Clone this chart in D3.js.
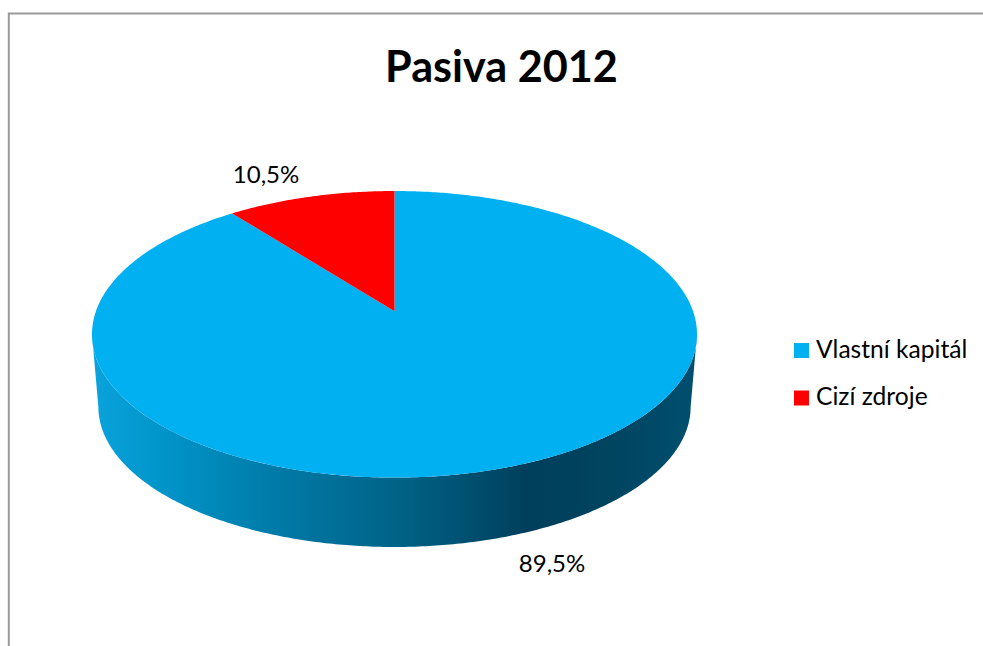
<!DOCTYPE html>
<html>
<head>
<meta charset="utf-8">
<script src="https://cdn.jsdelivr.net/npm/d3@7/dist/d3.min.js"></script>
<style>
  html, body { margin: 0; padding: 0; background: #fff; }
  svg { display: block; }
  text { font-family: Lato, "Open Sans", sans-serif; fill: #000; }
</style>
</head>
<body>
<svg id="chart" width="983" height="646"></svg>
<script>
// Capital structure for 2012
const categories = ["Vlastní kapitál", "Cizí zdroje"];
const shares = [89.5, 10.5];
const sliceColors = ["#00b0f0", "#ff0000"];
const chartTitle = "Pasiva 2012";

const W = 983, H = 646;
const svg = d3.select("#chart").attr("viewBox", `0 0 ${W} ${H}`);

// Chart frame: only the top and left edges fall inside the view
svg.append("path")
  .attr("d", `M8.8,${H}V13.5H${W}`)
  .attr("fill", "none")
  .attr("stroke", "#9a9a9a")
  .attr("stroke-width", 2);

svg.append("text")
  .attr("x", 501.5).attr("y", 82)
  .attr("text-anchor", "middle")
  .attr("font-size", 43.2)
  .attr("font-weight", 700)
  .text(chartTitle);

// Perspective projection of the pie's unit disc onto the page.
// The far rim sits at y=191, the near rim at y=477.6 and the hub at y=311.3.
const hub = { x: 394.5, y: 311.3 };
const rimTop = 191, rimBottom = 477.6;
const tilt = (rimTop + rimBottom - 2 * hub.y) / (rimBottom - rimTop);
const yGain = rimTop * (1 + tilt) - hub.y;
const halfWidth = 302.5 * Math.sqrt(1 - tilt * tilt);

function projectTop(angle) {
  const u = Math.sin(angle), v = Math.cos(angle);
  const w = 1 + tilt * v;
  return [hub.x + halfWidth * u / w, (yGain * v + hub.y) / w];
}

// The lower rim is the same circle seen a little smaller and further down.
const rimCentreY = 334.3, shrink = 0.979, drop = 72.4;
function projectBottom(angle) {
  const [x, y] = projectTop(angle);
  return [hub.x + (x - hub.x) * shrink, rimCentreY + (y - rimCentreY) * shrink + drop];
}

function rimPoints(project, a0, a1) {
  const steps = Math.max(2, Math.ceil(Math.abs(a1 - a0) / 0.01));
  return d3.range(steps + 1).map(i => project(a0 + (a1 - a0) * i / steps));
}

const line = d3.line();
const pie = d3.pie().sort(null).value(d => d);
const arcs = pie(shares);

// Shading along the visible wall of the disc
const gradient = svg.append("defs").append("linearGradient")
  .attr("id", "wall")
  .attr("gradientUnits", "userSpaceOnUse")
  .attr("x1", 92).attr("x2", 697).attr("y1", 0).attr("y2", 0);
[[0, "#0aa3dc"], [0.12, "#0094c9"], [0.3, "#007ba8"], [0.5, "#006488"],
 [0.72, "#003f5c"], [0.85, "#00445f"], [1, "#004f70"]]
  .forEach(([o, c]) => gradient.append("stop").attr("offset", o).attr("stop-color", c));

// Angle at which the projected rim reaches its side extremes
const sideAngle = Math.acos(-tilt);
const wall = rimPoints(projectTop, sideAngle, 2 * Math.PI - sideAngle)
  .concat(rimPoints(projectBottom, 2 * Math.PI - sideAngle, sideAngle));
svg.append("path")
  .attr("d", line(wall) + "Z")
  .attr("fill", "url(#wall)");

// Top face slices
svg.append("g").selectAll("path")
  .data(arcs)
  .join("path")
  .attr("d", d => line([[hub.x, hub.y], ...rimPoints(projectTop, d.startAngle, d.endAngle)]) + "Z")
  .attr("fill", (d, i) => sliceColors[i]);

// Percentage labels, offset from the rim at each slice's middle
const decimalComma = d3.formatLocale({ decimal: ",", thousands: " ", grouping: [3], currency: ["", ""] });
const fmt = decimalComma.format(".1f");
const labelOffsets = [[43.5, 105], [-44.5, -13.6]];
const midRim = d => projectTop((d.startAngle + d.endAngle) / 2);
svg.append("g").selectAll("text")
  .data(arcs)
  .join("text")
  .attr("text-anchor", "middle")
  .attr("font-size", 24)
  .attr("x", (d, i) => midRim(d)[0] + labelOffsets[i][0])
  .attr("y", (d, i) => midRim(d)[1] + labelOffsets[i][1])
  .text(d => fmt(d.value) + "%");

// Legend
const legendY = d3.scalePoint().domain(categories).range([357.5, 405]);
const legend = svg.append("g").selectAll("g")
  .data(categories)
  .join("g")
  .attr("transform", d => `translate(794,${legendY(d)})`);
legend.append("rect")
  .attr("y", -14.5).attr("width", 15).attr("height", 15)
  .attr("fill", (d, i) => sliceColors[i]);
legend.append("text")
  .attr("x", 22)
  .attr("font-size", 24.6)
  .text(d => d);
</script>
</body>
</html>
